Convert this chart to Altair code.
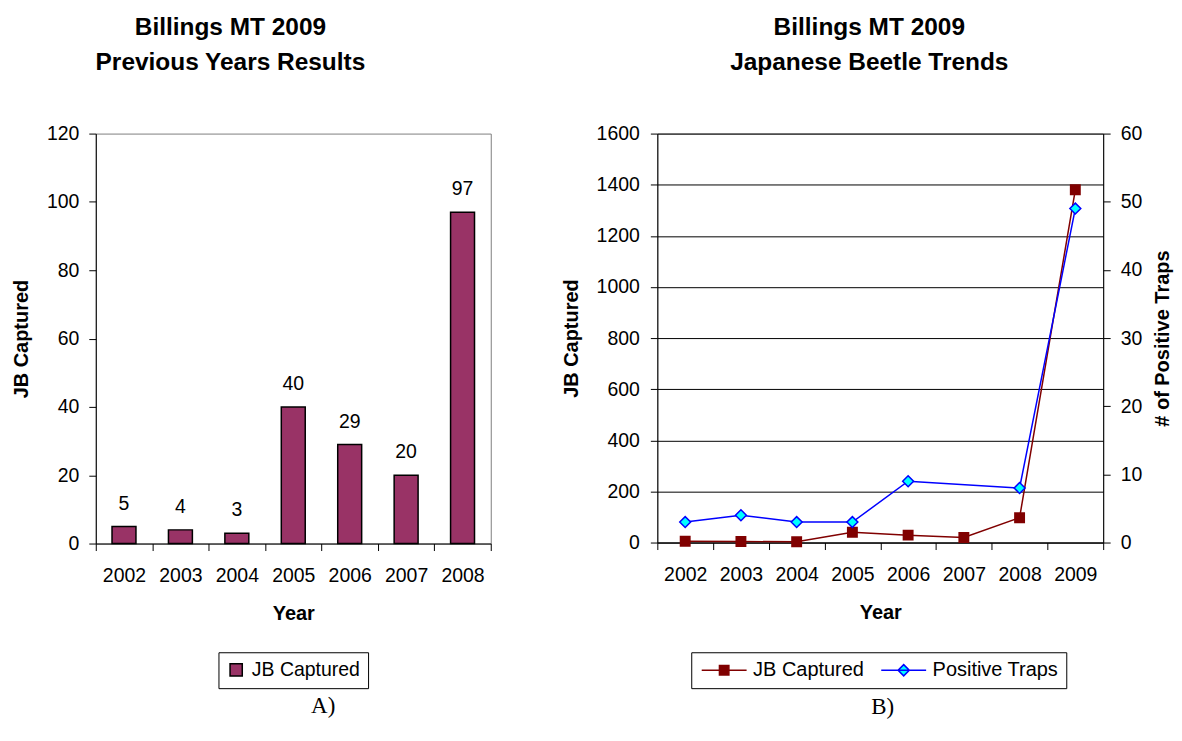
import altair as alt
import pandas as pd

# ---------------- data ----------------
years_a = ["2002", "2003", "2004", "2005", "2006", "2007", "2008"]
captured_a = [5, 4, 3, 40, 29, 20, 97]

years_b = ["2002", "2003", "2004", "2005", "2006", "2007", "2008", "2009"]
captured_b = [5, 4, 3, 40, 29, 20, 97, 1380]
traps_b = [3, 4, 3, 3, 9, None, 8, 49]

series_names = ["JB Captured", "Positive Traps"]
captions = ["A)", "B)"]

FONT = "Liberation Sans"
SERIF = "Liberation Serif"

df_a = pd.DataFrame({"year": years_a, "captured": captured_a, "series_a": series_names[0]})
df_b = pd.DataFrame({"year": years_b, "captured": captured_b, "traps": traps_b})
df_leg = pd.DataFrame({"series": series_names})

TITLE_KW = dict(font=FONT, fontSize=24.5, fontWeight="bold", color="black",
                anchor="middle", offset=48, lineHeight=35)

# ---------------- left chart ----------------
x_a = alt.X(
    "year:N", title="Year", sort=years_a,
    scale=alt.Scale(domain=years_a, paddingInner=0, paddingOuter=0),
    axis=alt.Axis(labelAngle=0, tickBand="extent", tickSize=7, labelPadding=16, titlePadding=19),
)
y_a = alt.Y(
    "captured:Q", title="JB Captured",
    scale=alt.Scale(domain=[0, 120], nice=False),
    axis=alt.Axis(values=[0, 20, 40, 60, 80, 100, 120], format="d", tickSize=7,
                  labelPadding=10, titlePadding=15, grid=False),
)

leg_a = alt.Legend(
    title=None, orient="none", legendX=123, legendY=520, direction="horizontal",
    strokeColor="black", fillColor="white", padding=8,
    labelFont=FONT, labelFontSize=19.5, labelColor="black", labelOffset=6,
    symbolType="square", symbolSize=150, symbolStrokeColor="black", symbolStrokeWidth=1.5,
    symbolOpacity=1,
)

bars = alt.Chart(df_a).mark_bar(size=24, stroke="black", strokeWidth=1.5).encode(
    x=x_a, y=y_a,
    fill=alt.Fill("series_a:N", scale=alt.Scale(domain=[series_names[0]], range=["#993366"]), legend=leg_a),
)
bar_labels = alt.Chart(df_a).mark_text(
    dy=-17, baseline="alphabetic", font=FONT, fontSize=19.5, color="black"
).encode(x=x_a, y=y_a, text="captured:Q")

cap_a = alt.Chart(pd.DataFrame({"cap": [captions[0]]})).mark_text(
    font=SERIF, fontSize=23, baseline="middle", align="center", color="black"
).encode(x=alt.value(228), y=alt.value(574), text="cap:N")

left = alt.layer(bars, bar_labels, cap_a).properties(
    width=396, height=411,
    title=alt.TitleParams(["Billings MT 2009", "Previous Years Results"], dx=-63, **TITLE_KW),
)

# ---------------- right chart ----------------
x_b = alt.X(
    "year:N", title="Year", sort=years_b,
    scale=alt.Scale(domain=years_b, paddingInner=0, paddingOuter=0),
    axis=alt.Axis(labelAngle=0, tickBand="extent", tickSize=7, labelPadding=16, titlePadding=19),
)
y_left = alt.Y(
    "captured:Q", title="JB Captured",
    scale=alt.Scale(domain=[0, 1600], nice=False),
    axis=alt.Axis(orient="left", values=list(range(0, 1601, 200)), format="d", tickSize=7,
                  labelPadding=11, titlePadding=15, grid=True, gridColor="black",
                  gridWidth=1, gridOpacity=1),
)
y_right = alt.Y(
    "traps:Q", title="# of Positive Traps",
    scale=alt.Scale(domain=[0, 60], nice=False),
    axis=alt.Axis(orient="right", values=list(range(0, 61, 10)), format="d", tickSize=7,
                  labelPadding=10, titlePadding=11, titleAngle=270, titleBaseline="top",
                  grid=False),
)

base_b = alt.Chart(df_b)
jb_line = base_b.mark_line(color="#800000", strokeWidth=1.5).encode(x=x_b, y=y_left)
jb_pts = base_b.mark_point(shape="square", filled=True, size=80, fill="#800000",
                           stroke="#800000", opacity=1).encode(x=x_b, y=y_left)

traps_base = base_b.transform_filter("isValid(datum.traps)")
tr_line = traps_base.mark_line(color="#0000FF", strokeWidth=1.5).encode(x=x_b, y=y_right)
tr_pts = traps_base.mark_point(shape="diamond", filled=True, size=120, fill="#00FFFF",
                               stroke="#0000FF", strokeWidth=1.5, opacity=1).encode(x=x_b, y=y_right)

# legend symbol: a 45px line with a marker in its middle (unit = 7.5px)
leg_b = alt.Legend(
    title=None, orient="none", legendX=34, legendY=520, direction="horizontal",
    strokeColor="black", fillColor="white", padding=8,
    labelFont=FONT, labelFontSize=20, labelColor="black", labelOffset=34, columnPadding=13,
    symbolSize=225, symbolStrokeWidth=1.5, symbolOpacity=1,
)
sym_paths = [
    "M-1,0H5M1.37,-0.63H2.63V0.63H1.37Z",
    "M-1,0H5M2,-0.75L2.75,0L2,0.75L1.25,0Z",
]
legend_layer = alt.Chart(df_leg).transform_filter("false").mark_point(
    filled=True, opacity=1, strokeWidth=1.5
).encode(
    fill=alt.Fill("series:N", scale=alt.Scale(domain=series_names, range=["#800000", "#00FFFF"]), legend=leg_b),
    stroke=alt.Stroke("series:N", scale=alt.Scale(domain=series_names, range=["#800000", "#0000FF"]), legend=leg_b),
    shape=alt.Shape("series:N", scale=alt.Scale(domain=series_names, range=sym_paths), legend=leg_b),
)

cap_b = alt.Chart(pd.DataFrame({"cap": [captions[1]]})).mark_text(
    font=SERIF, fontSize=23, baseline="middle", align="center", color="black"
).encode(x=alt.value(226), y=alt.value(575), text="cap:N")

right = alt.layer(
    alt.layer(jb_line, jb_pts, legend_layer, cap_b),
    alt.layer(tr_line, tr_pts),
).resolve_scale(y="independent").properties(
    width=447, height=410,
    title=alt.TitleParams(["Billings MT 2009", "Japanese Beetle Trends"], dx=-11, **TITLE_KW),
)

chart = alt.hconcat(left, right, spacing=167, bounds="flush").resolve_scale(
    fill="independent", stroke="independent", shape="independent"
).resolve_legend(
    fill="independent", stroke="independent", shape="independent"
).properties(
    padding={"left": 2, "top": 6, "right": 0, "bottom": 0},
    background="white",
).configure_view(
    stroke="#808080", strokeWidth=1,
).configure_axis(
    domainColor="black", tickColor="black", labelColor="black", titleColor="black",
    labelFont=FONT, titleFont=FONT, labelFontSize=19.5, titleFontSize=20,
    titleFontWeight="bold", domainWidth=1, tickWidth=1,
)

chart.save("out.html", embed_options={"renderer": "svg", "actions": False})
